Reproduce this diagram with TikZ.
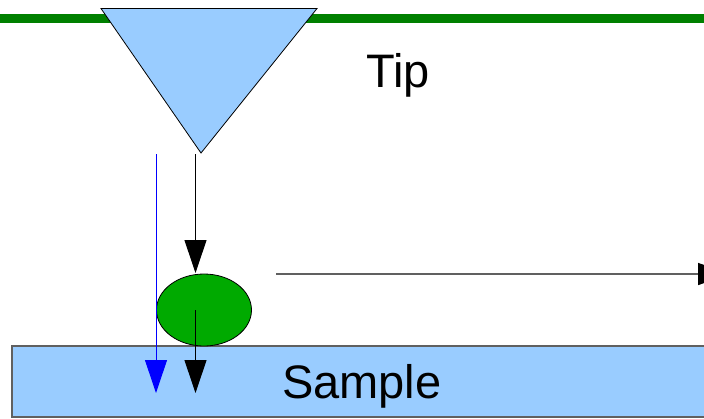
\documentclass[tikz,border=0pt]{standalone}
\usepackage{fontspec}
\setmainfont{Liberation Sans}
\usetikzlibrary{arrows.meta,shapes.geometric}
\definecolor{lightblue}{HTML}{99CCFF}
\definecolor{dotgreen}{HTML}{00AA00}
\definecolor{bargreen}{HTML}{008000}
\definecolor{edgegray}{HTML}{606060}
\tikzset{
  conn/.style={line width=1pt,-{Triangle[length=33pt,width=22pt]}},
  lbl/.style={font=\fontsize{47}{56}\selectfont,inner sep=0pt,anchor=base west}
}
\begin{document}
\begin{tikzpicture}[x=1pt,y=-1pt]
\useasboundingbox (0,0) rectangle (704,418);
\clip (0,0) rectangle (704,418);
% support bar
\draw[bargreen,line width=9pt] (0,18) -- (704,18);
% tip triangle
\coordinate (tl) at (101,8.5);
\coordinate (tr) at (317,8.5);
\coordinate (tipend) at (201,153);
\draw[fill=lightblue,line width=0.8pt] (tl) -- (tr) -- (tipend) -- cycle;
% sample
\node[draw=edgegray,fill=lightblue,line width=1.2pt,rectangle,minimum width=694pt,minimum height=71pt,inner sep=0pt] (sample) at (359,381.5) {};
% particle
\node[draw,fill=dotgreen,ellipse,minimum width=95pt,minimum height=72pt,inner sep=0pt,line width=0.8pt] (particle) at (204,310) {};
% coordinates for connectors
\coordinate (bstart) at (156,154);
\coordinate (bend) at (156,393);
\coordinate (k1start) at (195.5,154);
\coordinate (k1end) at (195.5,273);
\coordinate (k2start) at (195.5,310);
\coordinate (k2end) at (195.5,393);
\coordinate (hstart) at (276,274);
\coordinate (hend) at (731,274);
\draw[conn,blue] (bstart) -- (bend);
\draw[conn,black] (k1start) -- (k1end);
\draw[conn,black] (k2start) -- (k2end);
\draw[line width=1.3pt,edgegray,-{Triangle[length=33pt,width=22pt,color=black,fill=black]}] (hstart) -- (hend);
% labels
\node[lbl] (tiplabel) at (366,87) {Tip};
\node[lbl] (samplelabel) at (282,398) {Sample};
\end{tikzpicture}
\end{document}
